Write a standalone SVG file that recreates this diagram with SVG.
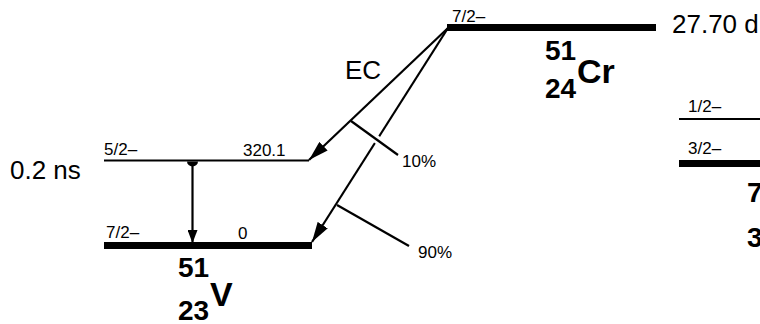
<svg xmlns="http://www.w3.org/2000/svg" width="760" height="324" viewBox="0 0 760 324">
<defs>
<style>
text{font-family:"Liberation Sans",Arial,sans-serif;fill:#000}
.s{font-size:17px}
.b{font-size:26px}
.n{font-size:28px;font-weight:bold}
.e{font-size:34px;font-weight:bold}
.thin{stroke:#000;stroke-width:2;fill:none}
.thick{stroke:#000;stroke-width:7;fill:none}
.ln{stroke:#000;stroke-width:2.2;fill:none}
.halo{stroke:#fff;stroke-width:8;fill:none}
</style>
<marker id="ah" viewBox="0 0 20 12" refX="20" refY="6" markerWidth="20" markerHeight="12" markerUnits="userSpaceOnUse" orient="auto">
<path d="M0,0 L20,6 L0,12 Z" fill="#000"/>
</marker>
<marker id="ag" viewBox="0 0 13 10" refX="13" refY="5" markerWidth="13" markerHeight="10" markerUnits="userSpaceOnUse" orient="auto">
<path d="M0,0 L13,5 L0,10 Z" fill="#000"/>
</marker>
</defs>
<rect width="760" height="324" fill="#fff"/>

<g id="cr51">
<line class="thick" x1="447" y1="27.5" x2="656" y2="27.5"/>
<text class="s" x="452" y="22">7/2–</text>
<text class="b" x="672" y="33">27.70 d</text>
<text class="n" x="545" y="60">51</text>
<text class="e" x="577" y="83">Cr</text>
<text class="n" x="545" y="98">24</text>
</g>

<g id="v51-320">
<line class="thin" x1="104" y1="160.5" x2="309" y2="160.5"/>
<text class="s" x="104" y="155">5/2–</text>
<text class="s" x="243" y="156">320.1</text>
<text class="b" x="10" y="179">0.2 ns</text>
</g>

<g id="v51-0">
<line class="thick" x1="104" y1="245.5" x2="312" y2="245.5"/>
<text class="s" x="106" y="238">7/2–</text>
<text class="s" x="238" y="239">0</text>
<text class="n" x="178" y="277">51</text>
<text class="e" x="210" y="306">V</text>
<text class="n" x="178" y="320">23</text>
</g>

<g id="li7">
<line class="thin" x1="679" y1="119" x2="760" y2="119"/>
<text class="s" x="688" y="112">1/2–</text>
<line class="thick" x1="679" y1="163.5" x2="760" y2="163.5"/>
<text class="s" x="688" y="154">3/2–</text>
<text class="n" x="747" y="202">7</text>
<text class="n" x="747" y="247">3</text>
</g>

<g id="connectors">
<line class="ln" x1="448" y1="28" x2="309" y2="160" marker-end="url(#ah)"/>
<line class="ln" x1="448" y1="28" x2="312" y2="242" marker-end="url(#ah)"/>
<line class="halo" x1="365" y1="131" x2="390" y2="149"/>
<line class="ln" x1="351" y1="121" x2="398" y2="155"/>
<line class="ln" x1="337" y1="205" x2="409" y2="246"/>
<line class="ln" x1="192.5" y1="162" x2="192.5" y2="243" marker-end="url(#ag)"/>
<path d="M187,161.5 L198,161.5 A5.5,5 0 0 1 187,161.5 Z" fill="#000"/>
<text class="b" x="345" y="79">EC</text>
<text class="s" x="402" y="167">10%</text>
<text class="s" x="418" y="258">90%</text>
</g>
</svg>
